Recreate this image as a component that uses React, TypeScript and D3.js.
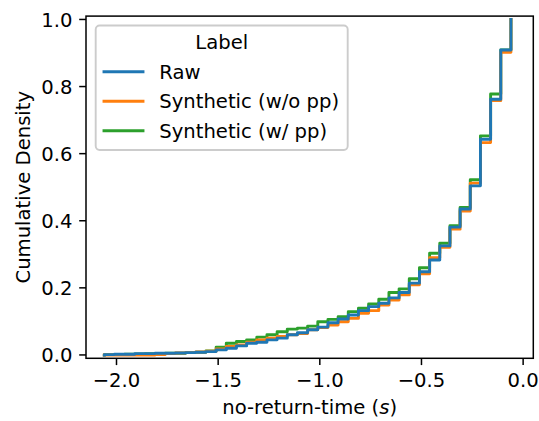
import React from "react";
import * as d3 from "d3";

const xSteps = [-2.06,-2.01,-1.96,-1.91,-1.86,-1.81,-1.76,-1.71,-1.66,-1.61,-1.56,-1.51,-1.46,-1.41,-1.36,-1.31,-1.26,-1.21,-1.16,-1.11,-1.06,-1.01,-0.96,-0.91,-0.86,-0.81,-0.76,-0.71,-0.66,-0.61,-0.56,-0.51,-0.46,-0.41,-0.36,-0.31,-0.26,-0.21,-0.16,-0.11,-0.06];

const rawCdf = [0.001,0.002,0.002,0.004,0.004,0.005,0.005,0.006,0.007,0.008,0.010,0.015,0.020,0.027,0.035,0.038,0.045,0.050,0.060,0.066,0.075,0.083,0.096,0.107,0.119,0.132,0.144,0.154,0.170,0.186,0.214,0.248,0.283,0.325,0.381,0.435,0.504,0.643,0.762,0.909,1.0];

const synNoPPCdf = [0.0,0.0,0.0,0.0,0.0,0.001,0.004,0.006,0.007,0.009,0.011,0.018,0.025,0.030,0.038,0.045,0.050,0.055,0.060,0.064,0.075,0.082,0.089,0.099,0.109,0.124,0.132,0.149,0.164,0.179,0.209,0.242,0.290,0.321,0.375,0.429,0.512,0.633,0.758,0.902,1.0];

const synPPCdf = [0.001,0.001,0.002,0.003,0.004,0.004,0.005,0.005,0.007,0.008,0.012,0.023,0.035,0.040,0.045,0.053,0.060,0.069,0.077,0.080,0.086,0.099,0.106,0.114,0.129,0.139,0.152,0.166,0.186,0.197,0.227,0.260,0.303,0.333,0.385,0.440,0.522,0.653,0.778,0.909,1.0];

const seriesLabels = ["Raw", "Synthetic (w/o pp)", "Synthetic (w/ pp)"];
const seriesColors = ["#1f77b4", "#ff7f0e", "#2ca02c"];
const seriesValues = [rawCdf, synNoPPCdf, synPPCdf];

const xTicks = [-2.0, -1.5, -1.0, -0.5, 0.0];
const yTicks = [0.0, 0.2, 0.4, 0.6, 0.8, 1.0];

const W = 539, H = 421;
const L = 86, R = 533.3, T = 16.1, B = 358.3;
const FS = 19.6;
const FONT = "DejaVu Sans, sans-serif";

export default function App() {
  const x = d3.scaleLinear().domain([-2.15, 0.05]).range([L, R]);
  const y = d3.scaleLinear().domain([-0.01, 1.01]).range([B, T]);
  const line = d3
    .line<[number, number]>()
    .x((d) => x(d[0]))
    .y((d) => y(d[1]))
    .curve(d3.curveStepAfter);

  const paths = seriesValues.map((vals) => {
    const pts: [number, number][] = [[xSteps[0], 0]];
    vals.forEach((v, i) => pts.push([xSteps[i], v]));
    return line(pts) as string;
  });

  const order = [2, 1, 0];
  const lw = 2.9;
  const tickLen = 6.8;
  const spineW = 1.5;

  const legX = 95.7, legY = 25.5, legW = 252, legH = 124.5;
  const rowY = [71.7, 101.2, 130.7];

  return (
    <svg width={W} height={H} style={{ position: "absolute", left: 0, top: 0, background: "#fff" }} fontFamily={FONT}>
      <rect x={0} y={0} width={W} height={H} fill="#fff" />
      <defs>
        <clipPath id="plotclip">
          <rect x={L} y={T} width={R - L} height={B - T} />
        </clipPath>
      </defs>
      <g clipPath="url(#plotclip)">
        {order.map((i) => (
          <path key={i} d={paths[i]} fill="none" stroke={seriesColors[i]} strokeWidth={lw} strokeLinecap="square" strokeLinejoin="round" />
        ))}
      </g>
      <rect x={L} y={T} width={R - L} height={B - T} fill="none" stroke="#000" strokeWidth={spineW} />
      {xTicks.map((t) => (
        <g key={"x" + t}>
          <line x1={x(t)} x2={x(t)} y1={B} y2={B + tickLen} stroke="#000" strokeWidth={spineW} />
          <text x={x(t)} y={B + tickLen + 6.8 + 15} textAnchor="middle" fontSize={FS} fill="#000">
            {(t < 0 ? "\u2212" : "") + Math.abs(t).toFixed(1)}
          </text>
        </g>
      ))}
      {yTicks.map((t) => (
        <g key={"y" + t}>
          <line x1={L - tickLen} x2={L} y1={y(t)} y2={y(t)} stroke="#000" strokeWidth={spineW} />
          <text x={L - tickLen - 6.8} y={y(t) + 7.2} textAnchor="end" fontSize={FS} fill="#000">
            {t.toFixed(1)}
          </text>
        </g>
      ))}
      <text x={(L + R) / 2} y={414} textAnchor="middle" fontSize={FS} fill="#000">
        no-return-time (<tspan fontStyle="italic">s</tspan>)
      </text>
      <text transform={`translate(30,${(T + B) / 2}) rotate(-90)`} textAnchor="middle" fontSize={FS} fill="#000">
        Cumulative Density
      </text>
      <rect x={legX} y={legY} width={legW} height={legH} rx={3.9} ry={3.9} fill="#fff" fillOpacity={0.8} stroke="#cccccc" strokeWidth={1.9} />
      <text x={legX + legW / 2} y={49} textAnchor="middle" fontSize={FS} fill="#000">Label</text>
      {seriesLabels.map((lab, i) => (
        <g key={lab}>
          <line x1={104} x2={143} y1={rowY[i]} y2={rowY[i]} stroke={seriesColors[i]} strokeWidth={lw} strokeLinecap="square" />
          <text x={159.3} y={rowY[i] + 7} fontSize={FS} fill="#000">{lab}</text>
        </g>
      ))}
    </svg>
  );
}
